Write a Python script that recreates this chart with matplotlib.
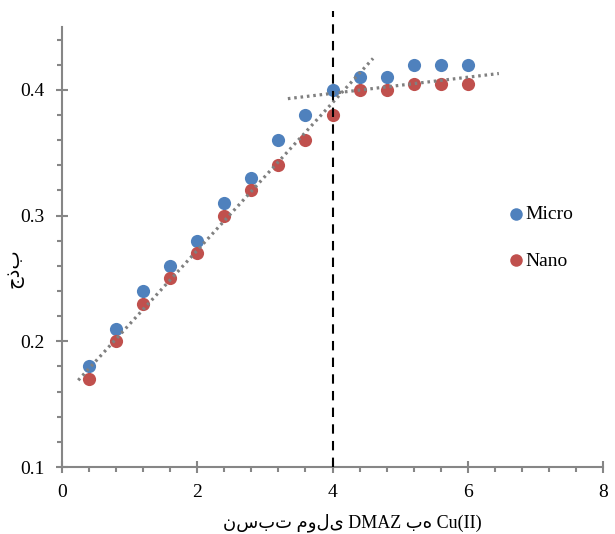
import matplotlib
matplotlib.use("Agg")
import matplotlib.pyplot as plt
import numpy as np

plt.rcParams['font.family'] = ['Liberation Serif', 'DejaVu Sans']

x_vals = [0.4, 0.8, 1.2, 1.6, 2.0, 2.4, 2.8, 3.2, 3.6, 4.0, 4.4, 4.8, 5.2, 5.6, 6.0]
micro = [0.18, 0.21, 0.24, 0.26, 0.28, 0.31, 0.33, 0.36, 0.38, 0.40, 0.41, 0.41, 0.42, 0.42, 0.42]
nano = [0.17, 0.20, 0.23, 0.25, 0.27, 0.30, 0.32, 0.34, 0.36, 0.38, 0.40, 0.40, 0.405, 0.405, 0.405]

trend1_x = [0.24, 4.6]
trend1_y = [0.169, 0.425]
trend2_x = [3.34, 6.46]
trend2_y = [0.393, 0.413]

equiv_x = 4.0

x_ticks = [0, 2, 4, 6, 8]
y_ticks = [0.1, 0.2, 0.3, 0.4]

xlabel = "نسبت مولی DMAZ به Cu(II)"
ylabel = "جذب"

fig = plt.figure(figsize=(6.15, 5.34), dpi=100)
ax = fig.add_axes([62/615, 67/534, 541/615, 440/534])

spine_c = '#868686'
ax.plot(trend1_x, trend1_y, linestyle=(0, (0.8, 1.2)), color='#808080', lw=2.3, zorder=3)
ax.plot(trend2_x, trend2_y, linestyle=(0, (0.8, 1.2)), color='#808080', lw=2.3, zorder=3)
ax.scatter(x_vals, micro, s=90, color='#4F81BD', label='Micro', zorder=2, linewidths=0)
ax.scatter(x_vals, nano, s=90, color='#C0504D', label='Nano', zorder=2, linewidths=0)
ax.plot([equiv_x, equiv_x], [0.1, 0.463], color='black', lw=1.5, linestyle=(0, (4.5, 3.5)), clip_on=False, zorder=4)

ax.set_xlim(0, 8)
ax.set_ylim(0.1, 0.45)
ax.set_xticks(x_ticks)
ax.set_yticks(y_ticks)
ax.set_xticklabels([str(t) for t in x_ticks])
ax.set_yticklabels([f"{t:.1f}" for t in y_ticks])
ax.set_xticks(np.arange(0, 8.01, 0.4), minor=True)
ax.set_yticks(np.arange(0.1, 0.451, 0.02), minor=True)

for s in ['top', 'right']:
    ax.spines[s].set_visible(False)
for s in ['left', 'bottom']:
    ax.spines[s].set_color(spine_c)
    ax.spines[s].set_linewidth(1.5)
ax.tick_params(which='major', direction='inout', length=8, width=1.5, color=spine_c, labelsize=14)
ax.tick_params(axis='y', which='major', pad=8.5)
ax.tick_params(axis='x', which='major', pad=8)
ax.tick_params(which='minor', direction='out', length=3.5, width=1.5, color=spine_c)

ax.set_xlabel(xlabel, fontsize=13)
ax.xaxis.set_label_coords((352 - 62) / 541, -0.105)
fig.text(15/615, 1 - 268/534, ylabel, fontsize=14, rotation=90, ha='center', va='center')

leg = ax.legend(loc='center left', bbox_to_anchor=(0.785, 0.522), frameon=False, fontsize=14,
                handletextpad=-0.5, labelspacing=1.5, markerscale=0.95, borderpad=0)

fig.savefig('out.png', dpi=100)
